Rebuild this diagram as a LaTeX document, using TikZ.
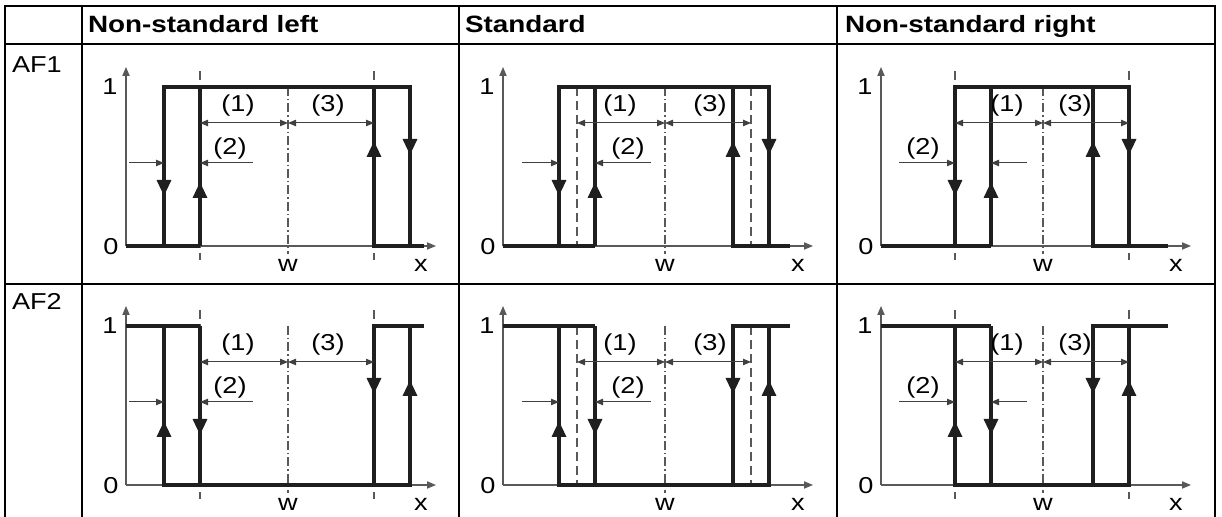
\documentclass[tikz,border=0pt]{standalone}
\usepackage{fontspec}
\setmainfont{Liberation Sans}[FakeStretch=1.18]
\usetikzlibrary{arrows.meta}
\begin{document}
\begin{tikzpicture}[x=0.5pt,y=0.5pt,line join=miter,
  every node/.style={inner sep=0pt,outer sep=0pt},
  rule/.style={line width=0.9pt},
  curve/.style={line width=1.6pt,draw=black!88},
  axis/.style={line width=0.6pt,draw=black!65,-{Triangle[length=4.5pt,width=3.6pt]}},
  thres/.style={line width=0.6pt,draw=black!65,dash pattern=on 4.5pt off 2.5pt},
  centre/.style={line width=0.6pt,draw=black!65,dash pattern=on 4.5pt off 1.5pt on 0.7pt off 1.5pt},
  dim/.style={line width=0.5pt,draw=black!75,{Triangle[length=4pt,width=3.2pt]}-{Triangle[length=4pt,width=3.2pt]}},
  push/.style={line width=0.5pt,draw=black!75,-{Triangle[length=4pt,width=3.2pt]}},
  tip/.style={line width=1.6pt,draw=black!88,-{Triangle[length=8pt,width=7pt]}},
  head/.style={font=\fontsize{11.8}{13}\selectfont\bfseries,anchor=base west},
  row/.style={font=\fontsize{11.5}{13}\selectfont,anchor=base west},
  lab/.style={font=\fontsize{11.5}{13}\selectfont}]
\useasboundingbox (0,0) rectangle (1222,517);
% table
\draw[rule] (5,0) -- (5,511) -- (1215,511) -- (1215,0);
\draw[rule] (5,473) -- (1215,473);
\draw[rule] (5,233) -- (1215,233);
\draw[rule] (82,0) -- (82,511);
\draw[rule] (459,0) -- (459,511);
\draw[rule] (837,0) -- (837,511);
\node[head] (hleft) at (88,484) {Non-standard left};
\node[head] (hstd) at (465,484) {Standard};
\node[head] (hright) at (845,484) {Non-standard right};
\node[row] (af1) at (12,444) {AF1};
\node[row] (af2) at (12,207) {AF2};
% AF1 row
\foreach \i/\ox/\a/\b/\c/\d/\e/\tt/\tb/\one/\three/\two/\pl/\pr in
  {1/126/38/74/248/284/298/175/-14/112/202/104/3/127,
   2/503/56/92/230/266/287/159/0/117/207/125/19/148,
   3/881/74/110/212/248/287/175/-14/126/194/42/18/146}{
\begin{scope}[shift={(\ox,271)}]
\draw[thres] (74,\tt) -- (74,\tb);
\draw[thres] (248,\tt) -- (248,\tb);
\draw[centre] (162,159) -- (162,-8);
\draw[axis] (0,0) -- (0,179);
\draw[axis] (0,0) -- (310,0);
\node[lab] (ka\i) at (-16,159) {1};
\node[lab] (za\i) at (-15,-1) {0};
\node[lab] (wa\i) at (162,-19) {w};
\node[lab] (xa\i) at (295,-19) {x};
\draw[curve] (0,0) -- (\b,0) (\a,0) -- (\a,159) -- (\d,159) -- (\d,0) (\b,0) -- (\b,159)
  (\c,159) -- (\c,0) -- (\e,0);
\draw[tip] (\a,70) -- (\a,50);
\draw[tip] (\b,44) -- (\b,64);
\draw[tip] (\c,85) -- (\c,105);
\draw[tip] (\d,111) -- (\d,91);
\draw[dim] (74,123) -- (162,123);
\draw[dim] (162,123) -- (248,123);
\draw[push] (\pl,83) -- (\a,83);
\draw[push] (\pr,83) -- (\b,83);
\node[lab] (ma\i) at (\one,140) {(1)};
\node[lab] (na\i) at (\three,140) {(3)};
\node[lab] (pa\i) at (\two,97) {(2)};
\end{scope}}
% AF2 row
\foreach \i/\ox/\a/\b/\c/\d/\e/\tt/\tb/\one/\three/\two/\pl/\pr in
  {1/126/38/74/248/284/298/175/-14/112/202/104/3/127,
   2/503/56/92/230/266/287/159/0/117/207/125/19/148,
   3/881/74/110/212/248/287/175/-14/126/194/42/18/146}{
\begin{scope}[shift={(\ox,32)}]
\draw[thres] (74,\tt) -- (74,\tb);
\draw[thres] (248,\tt) -- (248,\tb);
\draw[centre] (162,159) -- (162,-8);
\draw[axis] (0,0) -- (0,179);
\draw[axis] (0,0) -- (310,0);
\node[lab] (kb\i) at (-16,159) {1};
\node[lab] (zb\i) at (-15,-1) {0};
\node[lab] (wb\i) at (162,-19) {w};
\node[lab] (xb\i) at (295,-19) {x};
\draw[curve] (0,159) -- (\b,159) (\a,159) -- (\a,0) -- (\d,0) -- (\d,159) (\b,159) -- (\b,0)
  (\c,0) -- (\c,159) -- (\e,159);
\draw[tip] (\a,44) -- (\a,64);
\draw[tip] (\b,70) -- (\b,50);
\draw[tip] (\c,111) -- (\c,91);
\draw[tip] (\d,85) -- (\d,105);
\draw[dim] (74,123) -- (162,123);
\draw[dim] (162,123) -- (248,123);
\draw[push] (\pl,83) -- (\a,83);
\draw[push] (\pr,83) -- (\b,83);
\node[lab] (mb\i) at (\one,140) {(1)};
\node[lab] (nb\i) at (\three,140) {(3)};
\node[lab] (pb\i) at (\two,97) {(2)};
\end{scope}}
\end{tikzpicture}
\end{document}
